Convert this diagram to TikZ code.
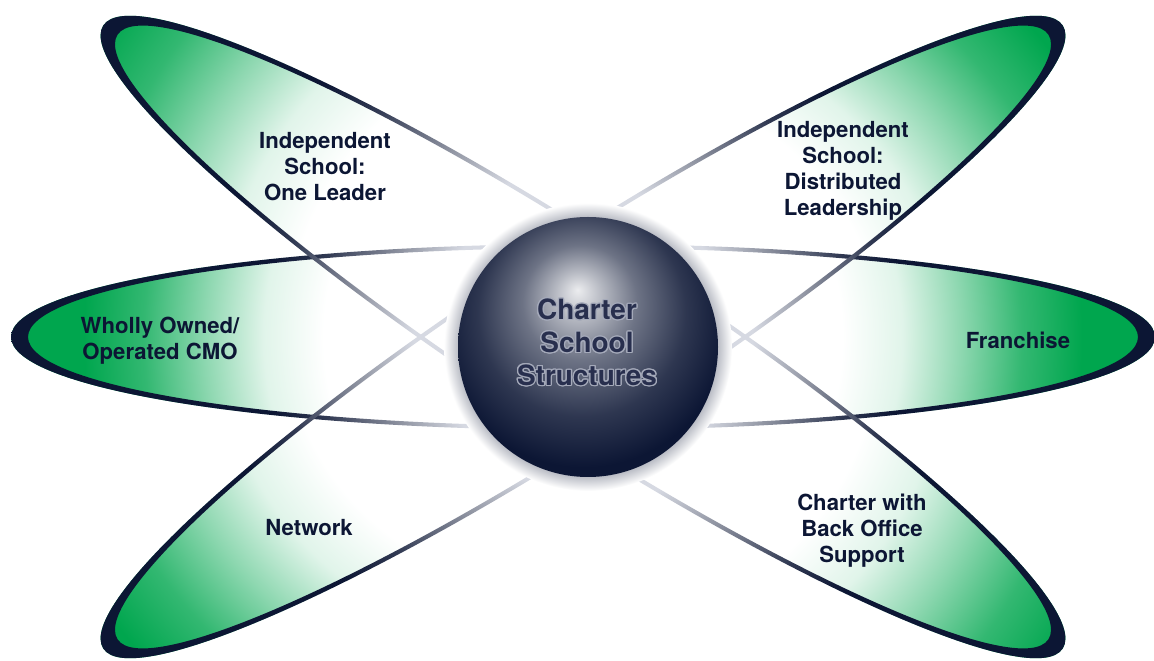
\documentclass[tikz,border=0pt]{standalone}
\usepackage{fontspec}
\setmainfont{TeX Gyre Heros}
\usepackage[copies]{contour}
\contourlength{0.7pt}

\definecolor{leafgreen}{RGB}{0,166,78}
\definecolor{inknavy}{RGB}{12,22,52}
\definecolor{mistgrey}{RGB}{214,217,226}
\definecolor{orbtext}{RGB}{40,47,78}
\definecolor{orbrim}{RGB}{165,170,186}

\pgfdeclareradialshading{petalshade}{\pgfpointorigin}{color(0bp)=(white); color(10.8bp)=(white); color(13.3bp)=(leafgreen!12!white); color(15.8bp)=(leafgreen!45!white); color(18.3bp)=(leafgreen!80!white); color(20.8bp)=(leafgreen); color(50bp)=(leafgreen)}
\pgfdeclareradialshading{rimshade}{\pgfpointorigin}{color(0bp)=(mistgrey); color(6.2bp)=(mistgrey); color(8.3bp)=(inknavy!45!white); color(11.2bp)=(inknavy!85!white); color(13.3bp)=(inknavy); color(50bp)=(inknavy)}
\pgfdeclareradialshading{orbshade}{\pgfpoint{-2bp}{11bp}}{color(0bp)=(white!92!inknavy); color(4.5bp)=(inknavy!30!white); color(11bp)=(inknavy!60!white); color(20bp)=(inknavy!86!white); color(28bp)=(inknavy); color(50bp)=(inknavy)}
\pgfdeclareradialshading{orbhalo}{\pgfpointorigin}{color(0bp)=(inknavy!30!white); color(22.4bp)=(inknavy!30!white); color(25bp)=(white); color(50bp)=(white)}

\tikzset{
  outerpetal/.style={x radius=572, y radius=93},
  innerpetal/.style={x radius=555, y radius=89},
  petaltext/.style={font=\bfseries\fontsize{12.6}{14.8}\selectfont, text=inknavy, align=center, inner sep=0pt},
  orbtext/.style={font=\bfseries\fontsize{15.9}{18.7}\selectfont, text=orbtext, align=center, inner sep=0pt}
}

\begin{document}
\begin{tikzpicture}[x=0.2mm, y=-0.2mm]
  \useasboundingbox (0,0) rectangle (1154,661);
  \coordinate (hub) at (583,337);
  \coordinate (orb) at (588,347);

  \foreach \tilt in {0,-33,33}{
    \begin{scope}[rotate around={\tilt:(hub)}]
      \clip (hub) ellipse [outerpetal];
      \shade[shading=petalshade] (hub) circle (600);
    \end{scope}
  }
  \foreach \tilt in {0,-33,33}{
    \begin{scope}[rotate around={\tilt:(hub)}, even odd rule]
      \clip (hub) ellipse [outerpetal] (hub) ellipse [innerpetal];
      \shade[shading=rimshade] (hub) circle (600);
    \end{scope}
  }

  \shade[shading=orbhalo] (orb) circle (144);
  \shade[shading=orbshade] (orb) circle (130);
  \node[orbtext] (core) at (587,343) {\contour{orbrim}{Charter}\\\contour{orbrim}{School}\\\contour{orbrim}{Structures}};

  \node[petaltext] (oneleader) at (325,167) {Independent\\School:\\One Leader};
  \node[petaltext] (distributed) at (843,171) {Independent\\School:\\Distributed\\Leadership};
  \node[petaltext] (whollyowned) at (160,341) {Wholly Owned/\\Operated CMO};
  \node[petaltext] (franchise) at (1018,340) {Franchise};
  \node[petaltext] (network) at (309,528) {Network};
  \node[petaltext] (backoffice) at (862,531) {Charter with\\Back Office\\Support};
\end{tikzpicture}
\end{document}
